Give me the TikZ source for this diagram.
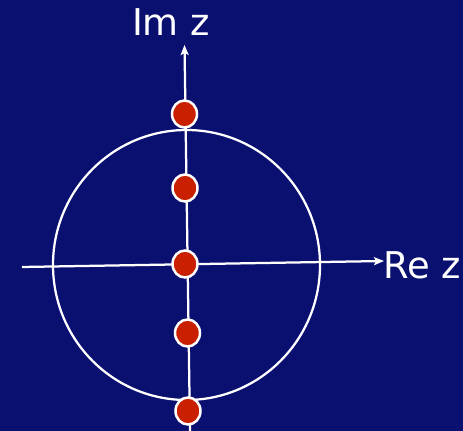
\documentclass[tikz,border=0pt]{standalone}
\usepackage{fontspec}
\setsansfont{DejaVu Sans}
\usetikzlibrary{arrows.meta,shapes.geometric}
\definecolor{fondo}{RGB}{10,16,112}
\definecolor{polo}{RGB}{200,32,0}
\tikzset{
  asse/.style={white,line width=0.045cm,-{Stealth[length=0.2cm,width=0.16cm,inset=0.04cm]}},
  punto/.style={ellipse,fill=polo,draw=white,line width=0.05cm,minimum width=0.5cm,minimum height=0.54cm,inner sep=0pt},
  etichetta/.style={text=white,font=\sffamily\fontsize{21}{25}\selectfont,inner sep=0pt}
}
\begin{document}
\begin{tikzpicture}[x=0.02cm,y=-0.02cm]
        % --- sfondo: 463 x 431 px ---
        \fill[fondo] (0,0) rectangle (463,431);
        \useasboundingbox (0,0) rectangle (463,431);
        % --- cerchio unitario: centro (186.5,265), raggio 134 ---
        \draw[white,line width=0.045cm] (186.5,265) ellipse (133.5 and 135);
        % --- assi ---
        \coordinate (re0) at (22,267);
        \coordinate (re1) at (384,261);
        \coordinate (im0) at (190,431);
        \coordinate (im1) at (184.5,45);
        \draw[asse] (re0) -- (re1);
        \draw[asse] (im0) -- (im1);
        \node[etichetta,anchor=west] (rez) at (383,265) {Re z};
        \node[etichetta] (imz) at (171,22) {Im z};
        % --- poli sull'asse immaginario ---
        \node[punto] (p1) at (184.5,114) {};
        \node[punto] (p2) at (185,188) {};
        \node[punto] (p3) at (185,264) {};
        \node[punto] (p4) at (187.5,333) {};
        \node[punto] (p5) at (188,411) {};
    \end{tikzpicture}
\end{document}
